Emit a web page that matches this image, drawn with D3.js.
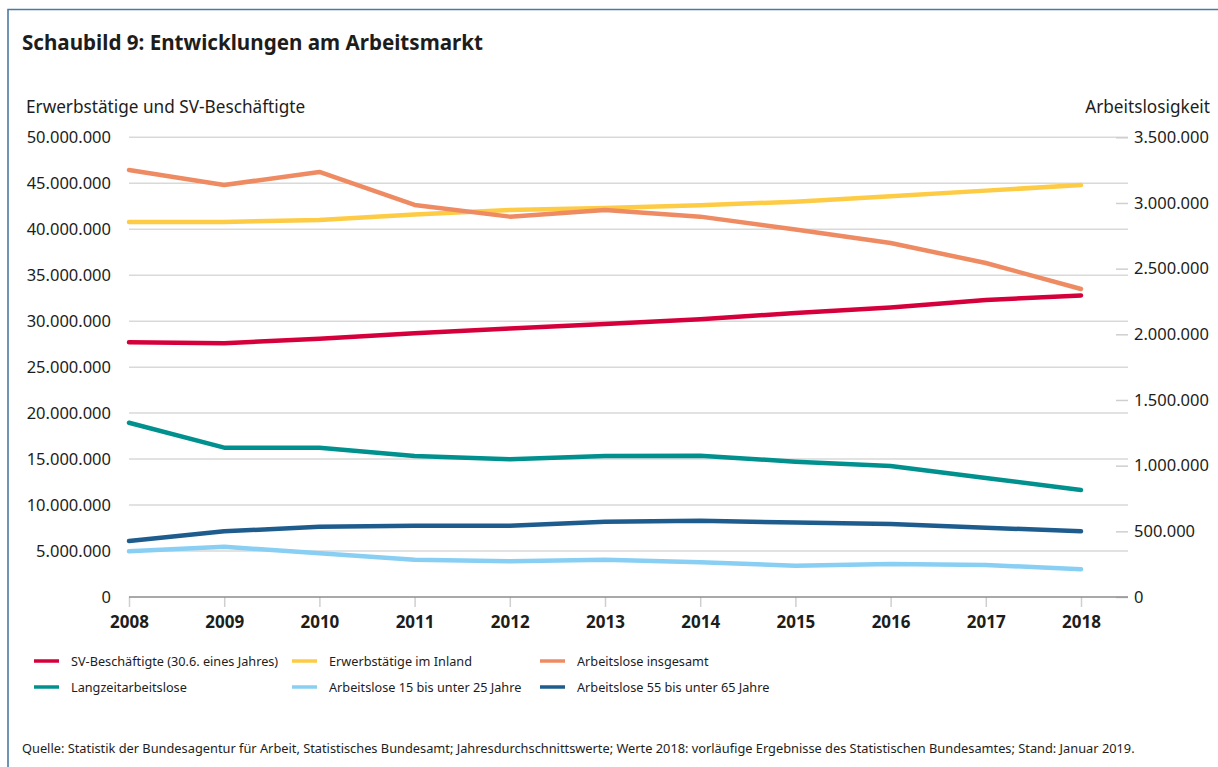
<!DOCTYPE html>
<html>
<head>
<meta charset="utf-8">
<script src="https://cdn.jsdelivr.net/npm/d3@7"></script>
<style>
    body { margin: 0; background: #fff; }
    svg { font-family: "Noto Sans", sans-serif; }
</style>
</head>
<body>
<svg id="chart" width="1218" height="767"></svg>
<script>
// values
const years = [2008, 2009, 2010, 2011, 2012, 2013, 2014, 2015, 2016, 2017, 2018];

// left axis (Erwerbstätige und SV-Beschäftigte)
const svBeschaeftigte = [27.7e6, 27.6e6, 28.1e6, 28.7e6, 29.2e6, 29.7e6, 30.2e6, 30.9e6, 31.5e6, 32.3e6, 32.8e6];
const erwerbstaetige = [40.8e6, 40.8e6, 41.0e6, 41.6e6, 42.1e6, 42.3e6, 42.6e6, 43.0e6, 43.6e6, 44.2e6, 44.8e6];

// right axis (Arbeitslosigkeit)
const arbeitsloseGesamt = [3251000, 3137000, 3236000, 2985000, 2896000, 2947000, 2896000, 2798000, 2695000, 2543000, 2345000];
const langzeitarbeitslose = [1327000, 1137000, 1137000, 1074000, 1048000, 1074000, 1076000, 1030000, 997000, 906000, 815000];
const arbeitslose15bis25 = [348000, 383000, 333000, 284000, 272000, 284000, 264000, 238000, 251000, 244000, 211000];
const arbeitslose55bis65 = [426000, 500000, 535000, 543000, 543000, 573000, 581000, 567000, 556000, 528000, 500000];

const leftTicks = [0, 5e6, 10e6, 15e6, 20e6, 25e6, 30e6, 35e6, 40e6, 45e6, 50e6];
const rightTicks = [0, 5e5, 1e6, 1.5e6, 2e6, 2.5e6, 3e6, 3.5e6];

const seriesNames = ["SV-Beschäftigte (30.6. eines Jahres)", "Erwerbstätige im Inland", "Arbeitslose insgesamt",
    "Langzeitarbeitslose", "Arbeitslose 15 bis unter 25 Jahre", "Arbeitslose 55 bis unter 65 Jahre"];

const series = [
    {name: seriesNames[0], values: svBeschaeftigte, axis: "left", color: "#d5003b"},
    {name: seriesNames[1], values: erwerbstaetige, axis: "left", color: "#fecb45"},
    {name: seriesNames[2], values: arbeitsloseGesamt, axis: "right", color: "#ee8b62"},
    {name: seriesNames[3], values: langzeitarbeitslose, axis: "right", color: "#00918f"},
    {name: seriesNames[4], values: arbeitslose15bis25, axis: "right", color: "#88cff3"},
    {name: seriesNames[5], values: arbeitslose55bis65, axis: "right", color: "#1e5c8e"}
];

const de = d3.formatLocale({decimal: ",", thousands: ".", grouping: [3], currency: ["", " €"]});
const fmt = de.format(",d");

const svg = d3.select("#chart");
const textColor = "#1d1d1b";

const plot = {left: 129, right: 1128, top: 137.3, bottom: 597};

const x = d3.scaleLinear().domain([2008, 2018]).range([129, 1081]);
const yLeft = d3.scaleLinear().domain([0, 50e6]).range([plot.bottom, plot.top]);
const yRight = d3.scaleLinear().domain([0, 3.5e6]).range([plot.bottom, plot.top]);

// frame
svg.append("path")
    .attr("d", "M8,767 L8,9.5 L1218,9.5")
    .attr("fill", "none")
    .attr("stroke", "#4a79a5")
    .attr("stroke-width", 1.6);

// title
svg.append("text")
    .attr("x", 22).attr("y", 50)
    .attr("font-size", 20.6)
    .attr("font-weight", "bold")
    .attr("fill", textColor)
    .text("Schaubild 9: Entwicklungen am Arbeitsmarkt");

svg.append("text")
    .attr("x", 26).attr("y", 113)
    .attr("font-size", 17.2)
    .attr("fill", textColor)
    .text("Erwerbstätige und SV-Beschäftigte");

svg.append("text")
    .attr("x", 1210).attr("y", 113)
    .attr("text-anchor", "end")
    .attr("font-size", 17.2)
    .attr("fill", textColor)
    .text("Arbeitslosigkeit");

// gridlines
svg.append("g").selectAll("line")
    .data(leftTicks.filter(d => d > 0))
    .join("line")
    .attr("x1", plot.left).attr("x2", plot.right)
    .attr("y1", d => yLeft(d)).attr("y2", d => yLeft(d))
    .attr("stroke", "#d9d9d9")
    .attr("stroke-width", 1.5);

// left axis
let gLeft = svg.append("g")
    .attr("transform", `translate(${plot.left},0)`)
    .call(d3.axisLeft(yLeft).tickValues(leftTicks).tickSize(0).tickPadding(18).tickFormat(fmt));
gLeft.select(".domain").remove();
gLeft.selectAll("text")
    .attr("font-family", "Noto Sans")
    .attr("font-size", 16.5)
    .attr("fill", textColor);

// right axis
let gRight = svg.append("g")
    .attr("transform", `translate(1116,0)`)
    .call(d3.axisRight(yRight).tickValues(rightTicks).tickSize(12).tickPadding(6).tickFormat(fmt));
gRight.select(".domain").remove();
gRight.selectAll("line").attr("stroke", "#cfcfcf").attr("stroke-width", 1.5);
gRight.selectAll("text")
    .attr("font-family", "Noto Sans")
    .attr("font-size", 16.5)
    .attr("fill", textColor);

// x axis
let gX = svg.append("g")
    .attr("transform", `translate(0,${plot.bottom})`)
    .call(d3.axisBottom(x).tickValues(years).tickSize(10).tickPadding(9).tickFormat(d3.format("d")));
gX.select(".domain").remove();
gX.selectAll("line").attr("stroke", "#cfcfcf").attr("stroke-width", 1.5);
gX.selectAll("text")
    .attr("font-family", "Noto Sans")
    .attr("font-size", 17)
    .attr("font-weight", "bold")
    .attr("fill", textColor);

svg.append("line")
    .attr("x1", plot.left).attr("x2", plot.right)
    .attr("y1", plot.bottom).attr("y2", plot.bottom)
    .attr("stroke", "#8c8c8c")
    .attr("stroke-width", 1.5);

// lines
const line = (scale) => d3.line()
    .x((d, i) => x(years[i]))
    .y(d => scale(d));

svg.append("g").selectAll("path")
    .data(series)
    .join("path")
    .attr("d", s => line(s.axis === "left" ? yLeft : yRight)(s.values))
    .attr("fill", "none")
    .attr("stroke", s => s.color)
    .attr("stroke-width", 4.5)
    .attr("stroke-linecap", "round")
    .attr("stroke-linejoin", "round");

// legend
const legendCols = [34, 292, 540];
const legendRows = [661, 687];

let legend = svg.append("g").selectAll("g")
    .data(series)
    .join("g")
    .attr("transform", (s, i) => `translate(${legendCols[i % 3]},${legendRows[Math.floor(i / 3)]})`);

legend.append("line")
    .attr("x1", 0).attr("x2", 25)
    .attr("stroke", s => s.color)
    .attr("stroke-width", 3.5);

legend.append("text")
    .attr("x", 37).attr("y", 4.5)
    .attr("font-size", 12.7)
    .attr("fill", textColor)
    .text(s => s.name);

// source
svg.append("text")
    .attr("x", 22).attr("y", 753)
    .attr("font-size", 12.8)
    .attr("fill", textColor)
    .text("Quelle: Statistik der Bundesagentur für Arbeit, Statistisches Bundesamt; Jahresdurchschnittswerte; Werte 2018: vorläufige Ergebnisse des Statistischen Bundesamtes; Stand: Januar 2019.");
</script>
</body>
</html>
